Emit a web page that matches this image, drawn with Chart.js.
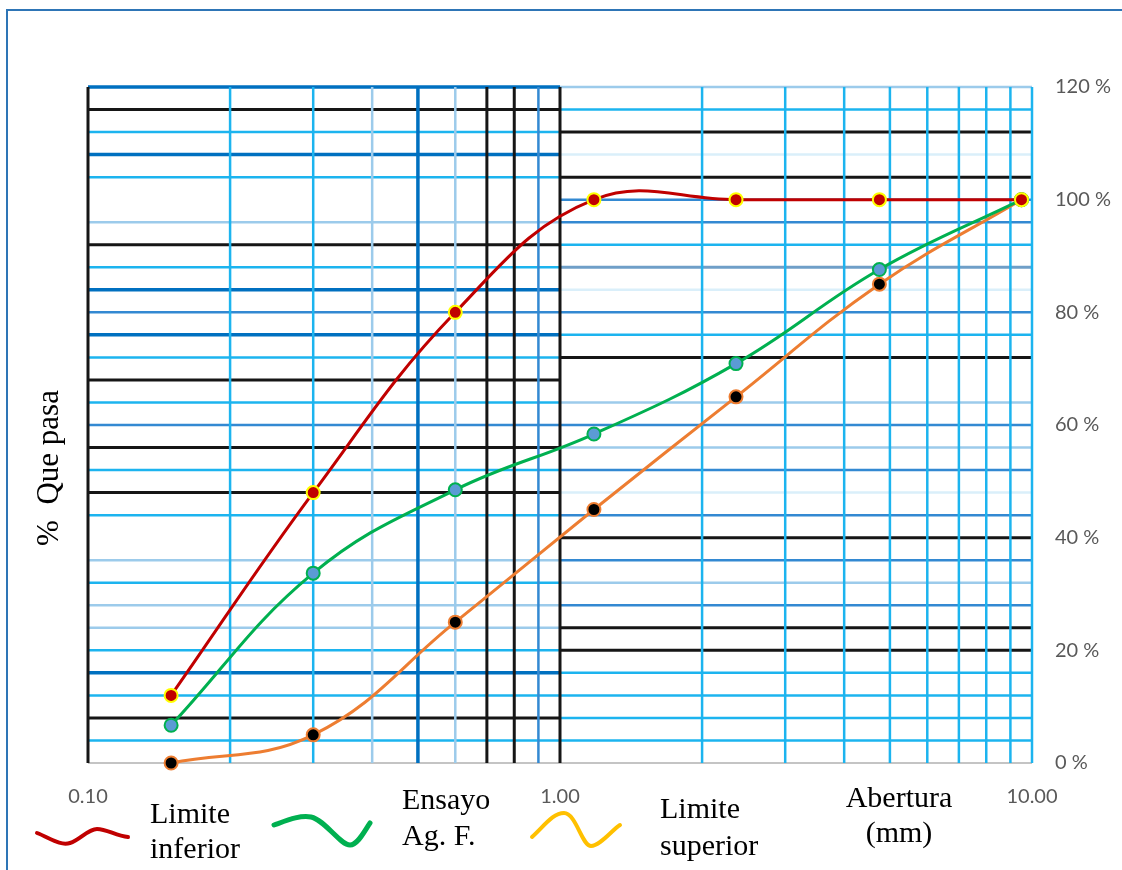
<!DOCTYPE html>
<html>
<head>
<meta charset="utf-8">
<script src="https://cdn.jsdelivr.net/npm/chart.js@4.4.0/dist/chart.umd.min.js"></script>
<style>
  html, body { margin: 0; padding: 0; background: #fff; }
  #wrap { position: relative; width: 1122px; height: 870px; overflow: hidden; background: #fff; }
  #frame { position: absolute; left: 6px; top: 9px; width: 1130px; height: 880px;
           border-left: 2px solid #2e75b6; border-top: 2px solid #2e75b6; }
  #chart { position: absolute; left: 0; top: 0; }
  .serif { position: absolute; font-family: "Liberation Serif", "DejaVu Serif", serif;
           font-size: 30px; line-height: 30px; color: #000; white-space: nowrap; }
  #ytitle { font-size: 31px; left: 48px; top: 468px; transform: translate(-50%, -50%) rotate(-90deg); }
  #waves { position: absolute; left: 0; top: 0; }
</style>
</head>
<body>
<div id="wrap">
  <div id="frame"></div>
  <canvas id="chart" width="1122" height="870"></canvas>
  <div class="serif" id="ytitle">%&nbsp;&nbsp;Que pasa</div>

  <svg id="waves" width="1122" height="870">
    <path d="M37 833 C50 838 60 846 70 843 C80 840 88 829 97 829 C107 829 116 836 128 837"
          fill="none" stroke="#c00000" stroke-width="4" stroke-linecap="round"/>
    <path d="M274 825 C288 820 300 815 311 817 C325 820 340 845 350 845 C358 845 365 830 370 823"
          fill="none" stroke="#00b050" stroke-width="5" stroke-linecap="round"/>
    <path d="M532 837 C545 825 553 813 564 813 C576 813 582 846 591 846 C600 846 612 830 620 825"
          fill="none" stroke="#ffc000" stroke-width="4" stroke-linecap="round"/>
  </svg>

  <div class="serif" style="left:150px; top:798px;">Limite</div>
  <div class="serif" style="left:150px; top:833px;">inferior</div>
  <div class="serif" style="left:402px; top:784px;">Ensayo</div>
  <div class="serif" style="left:402px; top:820px;">Ag. F.</div>
  <div class="serif" style="left:660px; top:793px;">Limite</div>
  <div class="serif" style="left:660px; top:830px;">superior</div>
  <div class="serif" style="left:799px; width:200px; text-align:center; top:782px;">Abertura</div>
  <div class="serif" style="left:799px; width:200px; text-align:center; top:817px;">(mm)</div>
</div>

<script>
/* curva granulométrica — agregado fino */

const aberturas      = [0.15, 0.3, 0.6, 1.18, 2.36, 4.75, 9.5];
const limiteInferior = [12, 48, 80, 100, 100, 100, 100];
const ensayoAgF      = [6.7, 33.7, 48.5, 58.4, 70.9, 87.6, 100];
const limiteSuperior = [0, 5, 25, 45, 65, 85, 100];

const xTickValues = [0.1, 1, 10];
const yMin  = 0;
const yMax  = 120;
const yStep = 20;

/* ── papel semilogarítmico de fondo (decorativo) ── */
const LINE = {
  g: ['#c4c4c4', 2],
  k: ['#161616', 3],
  B: ['#0070c0', 3.5],
  b: ['#3389d2', 2.5],
  c: ['#1cb4ef', 2.5],
  l: ['#9ccbeb', 2.5],
  v: ['#daeffa', 2.5],
  n: ['#6f9fc8', 3]
};
// one code per 4 % step, from 0 % up to 120 %
const rowsLeft  = 'gckcBcllcl-ckckbckcBbBckl-cBckB';
const rowsRight = 'gcccckkblbkbvblbl-kcbvncbbkvkcl';
const colsLeft  = [[0.2, 'c'], [0.3, 'c'], [0.4, 'l'], [0.5, 'B'], [0.6, 'l'], [0.7, 'k'], [0.8, 'k'], [0.9, 'b']];
const colsRight = [[2, 'c'], [3, 'c'], [4, 'c'], [5, 'c'], [6, 'c'], [7, 'c'], [8, 'c'], [9, 'c'], [10, 'c']];

function stroke(ctx, code, x1, y1, x2, y2) {
  const s = LINE[code];
  if (!s) return;
  ctx.strokeStyle = s[0];
  ctx.lineWidth = s[1];
  ctx.beginPath();
  ctx.moveTo(x1, y1);
  ctx.lineTo(x2, y2);
  ctx.stroke();
}

const paperPlugin = {
  id: 'paper',
  beforeDatasetsDraw(chart) {
    const { ctx, chartArea: a, scales: { x, y } } = chart;
    const xMid = x.getPixelForValue(1);
    ctx.save();
    for (let i = 0; i < rowsLeft.length; i++) {
      const py = y.getPixelForValue(i * 4);
      stroke(ctx, rowsLeft[i],  a.left, py, xMid, py);
      stroke(ctx, rowsRight[i], xMid, py, a.right, py);
    }
    colsLeft.concat(colsRight).forEach(([v, code]) => {
      const px = x.getPixelForValue(v);
      stroke(ctx, code, px, a.top, px, a.bottom);
    });
    stroke(ctx, 'k', a.left, a.top, a.left, a.bottom);
    stroke(ctx, 'k', xMid, a.top, xMid, a.bottom);
    ctx.restore();
  }
};

const toPoints = vals => aberturas.map((a, i) => ({ x: a, y: vals[i] }));

function series(label, vals, line, fill, edge) {
  return {
    label,
    data: toPoints(vals),
    borderColor: line,
    borderWidth: 3,
    tension: 0.4,
    pointRadius: 6.5,
    pointBorderWidth: 2,
    pointBackgroundColor: fill,
    pointBorderColor: edge,
    clip: false
  };
}

const tickFont = { family: 'Lato', size: 20 };

new Chart(document.getElementById('chart'), {
  type: 'line',
  data: {
    datasets: [
      series('Limite inferior', limiteInferior, '#c00000', '#c00000', '#ffff00'),
      series('Ensayo Ag. F.',   ensayoAgF,      '#00b050', '#5b9bd5', '#00b050'),
      series('Limite superior', limiteSuperior, '#ed7d31', '#000000', '#ed7d31')
    ]
  },
  options: {
    responsive: false,
    animation: false,
    layout: { padding: { left: 88, top: 87, right: 0, bottom: 0 } },
    plugins: { legend: { display: false }, tooltip: { enabled: false } },
    scales: {
      x: {
        type: 'logarithmic', min: 0.1, max: 10,
        grid: { display: false, drawTicks: false }, border: { display: false },
        afterBuildTicks: ax => { ax.ticks = xTickValues.map(v => ({ value: v })); },
        afterFit: ax => { ax.height = 107; },
        ticks: { autoSkip: false, maxRotation: 0, padding: 22, color: '#595959', font: tickFont,
                 callback: v => Number(v).toFixed(2) }
      },
      y: {
        position: 'right', min: yMin, max: yMax,
        grid: { display: false, drawTicks: false }, border: { display: false },
        afterFit: ax => { ax.width = 90; },
        ticks: { stepSize: yStep, padding: 23, color: '#595959', font: tickFont,
                 callback: v => v + ' %' }
      }
    }
  },
  plugins: [paperPlugin]
});
</script>
</body>
</html>
